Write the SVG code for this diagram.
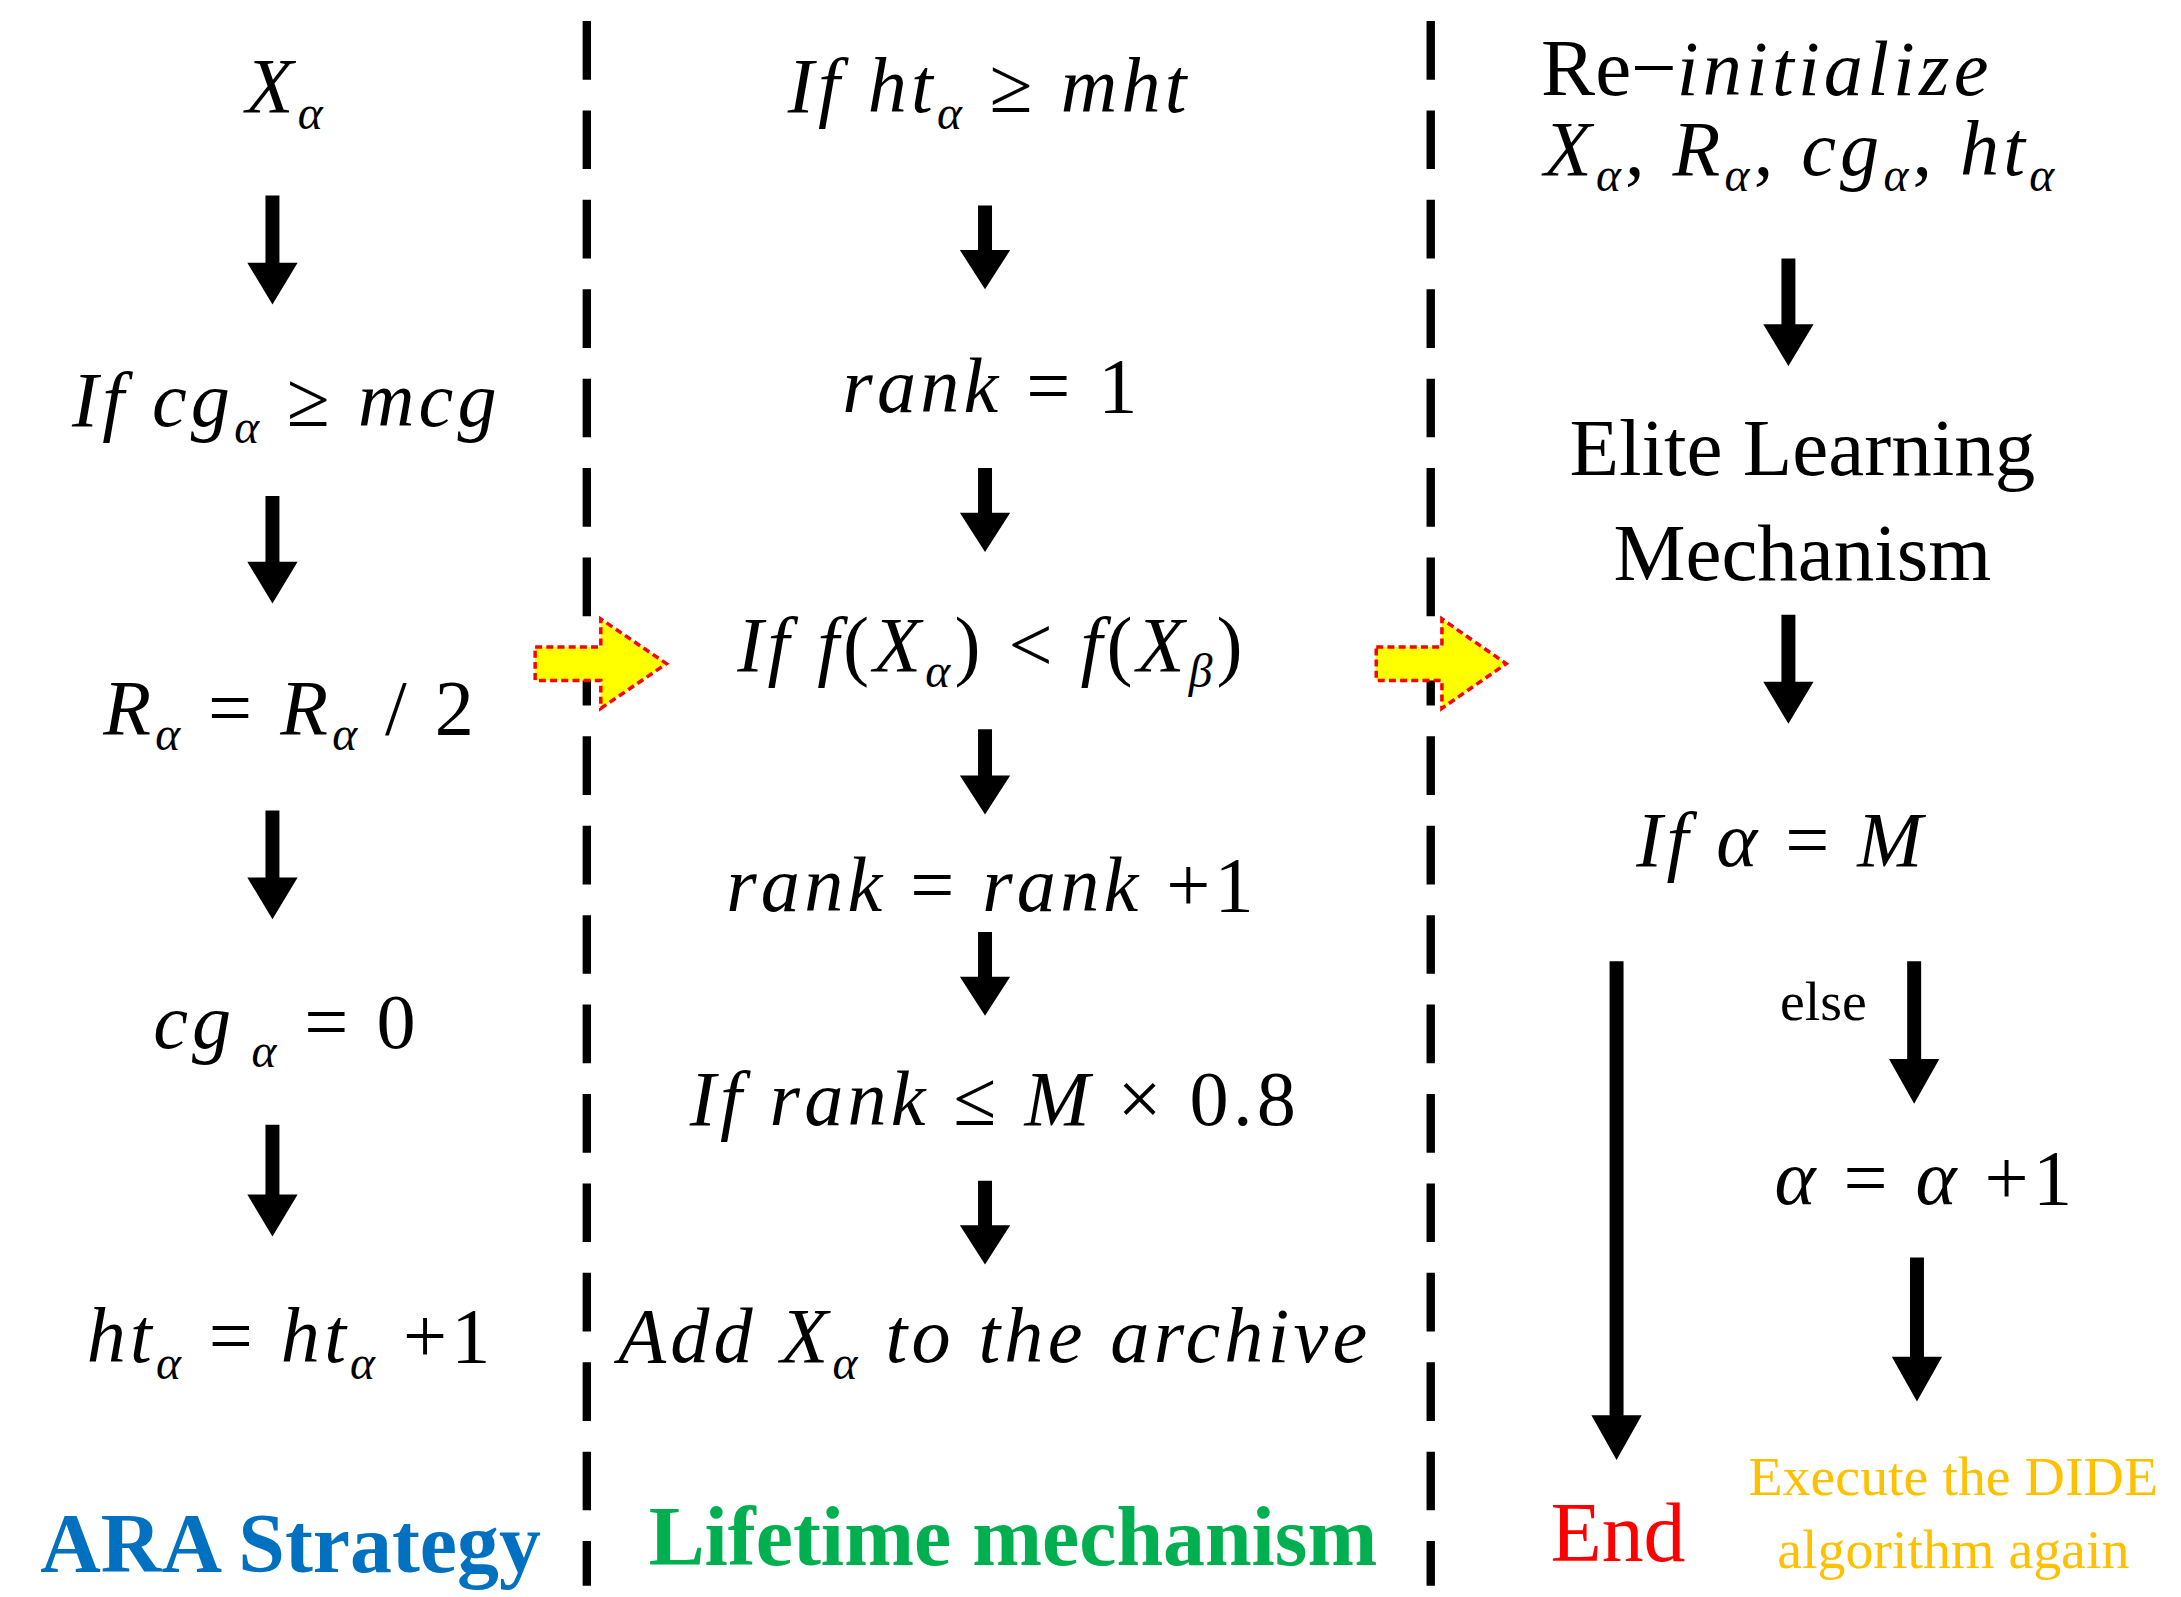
<svg xmlns="http://www.w3.org/2000/svg" width="2181" height="1597" viewBox="0 0 2181 1597">
<style>
.m{font-family:"Liberation Serif","DejaVu Serif",serif;font-style:italic;font-size:56px;fill:#000;letter-spacing:3px}
.n{font-style:normal}
.s{font-size:34px}
.r{font-family:"Liberation Serif",serif;font-size:58px}
.dash{stroke:#000;stroke-width:6;stroke-dasharray:42 22;fill:none}
.ar{fill:#000}
.ya{fill:#ffff00;stroke:#ff0000;stroke-width:2.5;stroke-dasharray:5 3}
.b{font-family:"Liberation Serif",serif;font-weight:bold;font-size:60px}
</style>
<rect width="2181" height="1597" fill="#fff"/>
<g transform="scale(1.3972)">
<g id="connectors">
<line class="dash" x1="420" y1="15" x2="420" y2="1135"/>
<line class="dash" x1="1024" y1="15" x2="1024" y2="1135"/>
<polygon class="ar" points="190,140 200,140 200,188 213,188 195,218 177,188 190,188"/>
<polygon class="ar" points="190,355 200,355 200,402 213,402 195,432 177,402 190,402"/>
<polygon class="ar" points="190,580 200,580 200,628 213,628 195,658 177,628 190,628"/>
<polygon class="ar" points="190,805 200,805 200,855 213,855 195,885 177,855 190,855"/>
<polygon class="ar" points="700,147 710,147 710,179 723,179 705,207 687,179 700,179"/>
<polygon class="ar" points="700,335 710,335 710,367 723,367 705,395 687,367 700,367"/>
<polygon class="ar" points="700,522 710,522 710,555 723,555 705,583 687,555 700,555"/>
<polygon class="ar" points="700,667 710,667 710,699 723,699 705,727 687,699 700,699"/>
<polygon class="ar" points="700,845 710,845 710,877 723,877 705,905 687,877 700,877"/>
<polygon class="ar" points="1275,185 1285,185 1285,232 1298,232 1280,262 1262,232 1275,232"/>
<polygon class="ar" points="1275,440 1285,440 1285,488 1298,488 1280,518 1262,488 1275,488"/>
<polygon class="ar" points="1152,688 1162,688 1162,1013 1175,1013 1157,1045 1139,1013 1152,1013"/>
<polygon class="ar" points="1365,688 1375,688 1375,758 1388,758 1370,790 1352,758 1365,758"/>
<polygon class="ar" points="1367,900 1377,900 1377,971 1390,971 1372,1003 1354,971 1367,971"/>
<polygon class="ya" points="383,463 430,463 430,443 477,475 430,507 430,487 383,487"/>
<polygon class="ya" points="985,463 1032,463 1032,443 1078,475 1032,507 1032,487 985,487"/>
</g>
<g id="left">
<text class="m" x="205" y="80" text-anchor="middle">X<tspan class="s" dy="12">α</tspan></text>
<text class="m" x="205" y="305" text-anchor="middle">If  cg<tspan class="s" dy="12">α</tspan><tspan dy="-12"> </tspan><tspan class="n">≥</tspan> mcg</text>
<text class="m" x="208" y="525" text-anchor="middle">R<tspan class="s" dy="12">α</tspan><tspan class="n" dy="-12"> = </tspan>R<tspan class="s" dy="12">α</tspan><tspan class="n" dy="-12"> / 2</tspan></text>
<text class="m" x="205" y="750" text-anchor="middle">cg<tspan class="s" dy="14"> α</tspan><tspan class="n" dy="-14">   = 0</tspan></text>
<text class="m" x="208" y="975" text-anchor="middle">ht<tspan class="s" dy="12">α</tspan><tspan class="n" dy="-12"> = </tspan>ht<tspan class="s" dy="12">α</tspan><tspan class="n" dy="-12"> +1</tspan></text>
<text class="b" x="208" y="1125" text-anchor="middle" style="fill:#0070C0">ARA Strategy</text>
</g>
<g id="middle">
<text class="m" x="708" y="80" text-anchor="middle">If  ht<tspan class="s" dy="12">α</tspan><tspan dy="-12"> </tspan><tspan class="n">≥</tspan> mht</text>
<text class="m" x="710" y="295" text-anchor="middle">rank <tspan class="n">= 1</tspan></text>
<text class="m" x="710" y="480" text-anchor="middle">If  f<tspan class="n">(</tspan>X<tspan class="s" dy="12">α</tspan><tspan class="n" dy="-12">) &lt; </tspan>f<tspan class="n">(</tspan>X<tspan class="s" dy="12">β</tspan><tspan class="n" dy="-12">)</tspan></text>
<text class="m" x="710" y="652" text-anchor="middle">rank <tspan class="n">=</tspan> rank <tspan class="n">+1</tspan></text>
<text class="m" x="712" y="805" text-anchor="middle">If  rank <tspan class="n">≤</tspan> M <tspan class="n">× 0.8</tspan></text>
<text class="m" x="712" y="975" text-anchor="middle">Add  X<tspan class="s" dy="12">α</tspan><tspan dy="-12"> to the archive</tspan></text>
<text class="b" x="725" y="1120" text-anchor="middle" style="fill:#00B050">Lifetime mechanism</text>
</g>
<g id="right">
<text class="r" x="1103" y="68">Re<tspan>−</tspan><tspan class="m">initialize</tspan></text>
<text class="m" x="1105" y="125">X<tspan class="s" dy="12">α</tspan><tspan class="n" dy="-12">, </tspan>R<tspan class="s" dy="12">α</tspan><tspan class="n" dy="-12">, </tspan>cg<tspan class="s" dy="12">α</tspan><tspan class="n" dy="-12">, </tspan>ht<tspan class="s" dy="12">α</tspan></text>
<text class="r" x="1290" y="340" text-anchor="middle">Elite Learning</text>
<text class="r" x="1290" y="415" text-anchor="middle">Mechanism</text>
<text class="m" x="1275" y="620" text-anchor="middle">If  α <tspan class="n">=</tspan> M</text>
<text class="r" x="1305" y="730" text-anchor="middle" style="font-size:40px">else</text>
<text class="m" x="1378" y="862" text-anchor="middle">α <tspan class="n">=</tspan> α <tspan class="n">+1</tspan></text>
<text class="r" x="1158" y="1117" text-anchor="middle" style="font-size:60px;fill:#ff0000">End</text>
<text class="r" x="1398" y="1070" text-anchor="middle" style="font-size:40px;fill:#FFC000">Execute the DIDE</text>
<text class="r" x="1398" y="1122" text-anchor="middle" style="font-size:40px;fill:#FFC000">algorithm again</text>
</g>
</g>
</svg>
